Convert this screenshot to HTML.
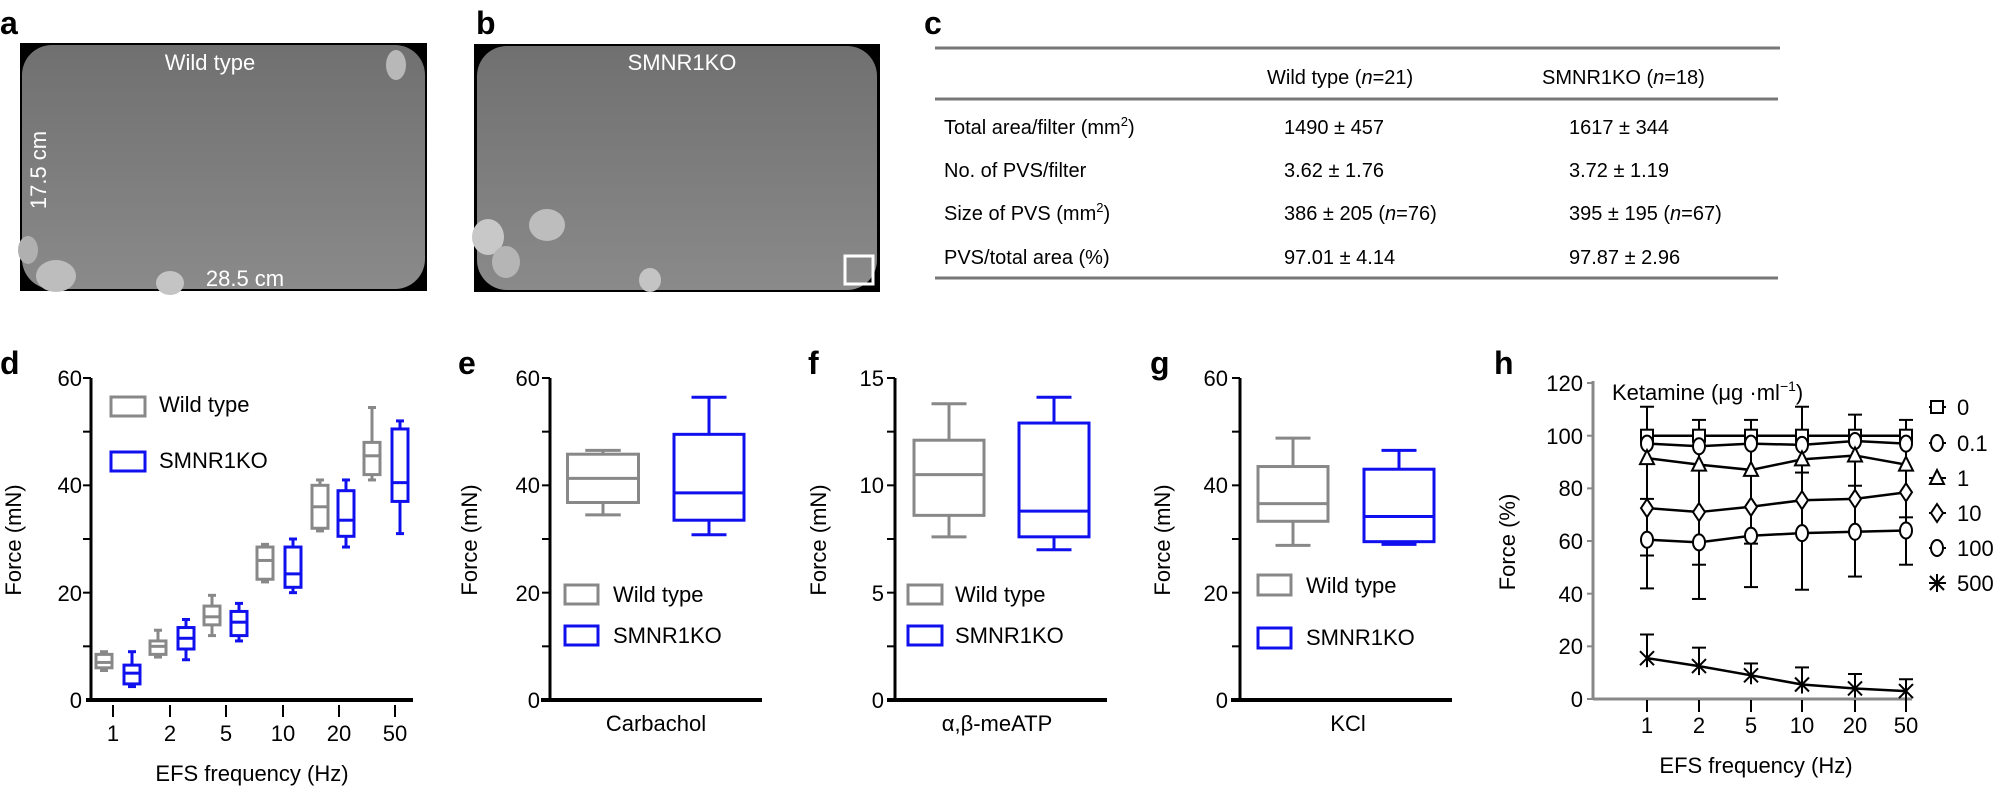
<!DOCTYPE html>
<html><head><meta charset="utf-8"><style>
html,body{margin:0;padding:0;background:#fff;}
svg{display:block;font-family:"Liberation Sans",Arial,sans-serif;}
</style></head><body>
<svg id="s" width="2002" height="787" viewBox="0 0 2002 787" xmlns="http://www.w3.org/2000/svg">
<defs>
<linearGradient id="ga" x1="0" y1="0" x2="0" y2="1"><stop offset="0" stop-color="#707070"/><stop offset="1" stop-color="#8a8a8a"/></linearGradient>
</defs>
<!-- panel letters -->
<g font-weight="bold" font-size="32" fill="#000">
<text x="0" y="34">a</text><text x="476" y="34">b</text><text x="924" y="34">c</text>
<text x="0" y="374">d</text><text x="458" y="374">e</text><text x="808" y="374">f</text><text x="1150" y="374">g</text><text x="1494" y="374">h</text>
</g>
<!-- photos -->
<rect x="20" y="43" width="407" height="248" fill="#000"/>
<rect x="22" y="45" width="403" height="244" rx="30" fill="url(#ga)"/>
<ellipse cx="396" cy="65" rx="10" ry="15" fill="#b8b8b8"/>
<ellipse cx="28" cy="250" rx="10" ry="14" fill="#b0b0b0"/>
<ellipse cx="56" cy="276" rx="20" ry="16" fill="#bdbdbd"/>
<ellipse cx="170" cy="283" rx="14" ry="12" fill="#c4c4c4"/>
<text x="210" y="70" font-size="22" fill="#fff" text-anchor="middle">Wild type</text>
<text x="245" y="286" font-size="22" fill="#fff" text-anchor="middle">28.5 cm</text>
<text transform="translate(46,170) rotate(-90)" font-size="22" fill="#fff" text-anchor="middle">17.5 cm</text>
<rect x="474" y="44" width="406" height="248" fill="#000"/>
<rect x="477" y="46" width="400" height="244" rx="30" fill="url(#ga)"/>
<ellipse cx="547" cy="225" rx="18" ry="16" fill="#bdbdbd"/>
<ellipse cx="488" cy="237" rx="16" ry="18" fill="#c8c8c8"/>
<ellipse cx="506" cy="262" rx="14" ry="16" fill="#b5b5b5"/>
<ellipse cx="650" cy="280" rx="11" ry="12" fill="#c4c4c4"/>
<rect x="845" y="256" width="28" height="28" fill="none" stroke="#fff" stroke-width="3"/>
<text x="682" y="70" font-size="22" fill="#fff" text-anchor="middle">SMNR1KO</text>
<!-- table -->
<g stroke="#777" stroke-width="3"><line x1="935" y1="48" x2="1780" y2="48"/><line x1="935" y1="99" x2="1778" y2="99"/><line x1="935" y1="278" x2="1778" y2="278"/></g>
<g font-size="20" fill="#000">
<text x="1267" y="84">Wild type (<tspan font-style="italic">n</tspan>=21)</text>
<text x="1542" y="84">SMNR1KO (<tspan font-style="italic">n</tspan>=18)</text>
<text x="944" y="134">Total area/filter (mm<tspan font-size="13" dy="-8">2</tspan><tspan dy="8">)</tspan></text>
<text x="944" y="177">No. of PVS/filter</text>
<text x="944" y="220">Size of PVS  (mm<tspan font-size="13" dy="-8">2</tspan><tspan dy="8">)</tspan></text>
<text x="944" y="264">PVS/total area (%)</text>
<text x="1284" y="134">1490 ± 457</text><text x="1569" y="134">1617 ± 344</text>
<text x="1284" y="177">3.62 ± 1.76</text><text x="1569" y="177">3.72 ± 1.19</text>
<text x="1284" y="220">386 ± 205 (<tspan font-style="italic">n</tspan>=76)</text><text x="1569" y="220">395 ± 195 (<tspan font-style="italic">n</tspan>=67)</text>
<text x="1284" y="264">97.01 ± 4.14</text><text x="1569" y="264">97.87 ± 2.96</text>
</g>
<!-- tick labels etc -->
<g font-size="22" fill="#000" text-anchor="end">
<text x="82" y="386">60</text><text x="82" y="493">40</text><text x="82" y="601">20</text><text x="82" y="708">0</text>
<text x="540" y="386">60</text><text x="540" y="493">40</text><text x="540" y="601">20</text><text x="540" y="708">0</text>
<text x="884" y="386">15</text><text x="884" y="493">10</text><text x="884" y="601">5</text><text x="884" y="708">0</text>
<text x="1228" y="386">60</text><text x="1228" y="493">40</text><text x="1228" y="601">20</text><text x="1228" y="708">0</text>
<text x="1583" y="391">120</text><text x="1583" y="444">100</text><text x="1583" y="496">80</text><text x="1583" y="549">60</text><text x="1583" y="602">40</text><text x="1583" y="654">20</text><text x="1583" y="707">0</text>
</g>
<g font-size="22" fill="#000" text-anchor="middle">
<text x="113" y="741">1</text><text x="170" y="741">2</text><text x="226" y="741">5</text><text x="283" y="741">10</text><text x="339" y="741">20</text><text x="395" y="741">50</text>
<text x="252" y="781">EFS frequency (Hz)</text>
<text x="656" y="731">Carbachol</text>
<text x="997" y="731">α,β-meATP</text>
<text x="1348" y="731">KCl</text>
<text x="1647" y="733">1</text><text x="1699" y="733">2</text><text x="1751" y="733">5</text><text x="1802" y="733">10</text><text x="1855" y="733">20</text><text x="1906" y="733">50</text>
<text x="1756" y="773">EFS frequency (Hz)</text>
<text transform="translate(21,540) rotate(-90)">Force (mN)</text>
<text transform="translate(477,540) rotate(-90)">Force (mN)</text>
<text transform="translate(826,540) rotate(-90)">Force (mN)</text>
<text transform="translate(1170,540) rotate(-90)">Force (mN)</text>
<text transform="translate(1515,542) rotate(-90)">Force (%)</text>
</g>
<g font-size="22" fill="#000">
<text x="159" y="412">Wild type</text><text x="159" y="468">SMNR1KO</text>
<text x="613" y="602">Wild type</text><text x="613" y="643">SMNR1KO</text>
<text x="955" y="602">Wild type</text><text x="955" y="643">SMNR1KO</text>
<text x="1306" y="593">Wild type</text><text x="1306" y="645">SMNR1KO</text>
<text x="1612" y="400">Ketamine (μg ·ml<tspan font-size="14" dy="-9">−1</tspan><tspan dy="9">)</tspan></text>
<text x="1957" y="415">0</text><text x="1957" y="451">0.1</text><text x="1957" y="486">1</text><text x="1957" y="521">10</text><text x="1957" y="556">100</text><text x="1957" y="591">500</text>
</g>
<g id="g"></g>
</svg>
<script>
var g=document.getElementById('g'),NS='http://www.w3.org/2000/svg';
function el(t,a){var e=document.createElementNS(NS,t);for(var k in a)e.setAttribute(k,a[k]);g.appendChild(e);return e;}
function L(x1,y1,x2,y2,c,w){el('line',{x1:x1,y1:y1,x2:x2,y2:y2,stroke:c||'#000','stroke-width':w||2});}
function R(x,y,w,h,c,sw){el('rect',{x:x,y:y,width:w,height:h,fill:'none',stroke:c,'stroke-width':sw||3});}
var GR='#888',BL='#1010ee';
function box(cx,w,Y,v,c,sw){var lo=Y(v[0]),q1=Y(v[1]),m=Y(v[2]),q3=Y(v[3]),hi=Y(v[4]);
 L(cx,hi,cx,q3,c,sw);L(cx,q1,cx,lo,c,sw);L(cx-w/4,hi,cx+w/4,hi,c,sw);L(cx-w/4,lo,cx+w/4,lo,c,sw);
 R(cx-w/2,q3,w,q1-q3,c,sw);L(cx-w/2,m,cx+w/2,m,c,sw);}
function axis(x,x0,x1,top,bot,n){L(x,top,x,bot+1.5,'#000',3);L(x0,bot,x1,bot,'#000',4);
 for(var i=0;i<n;i++){var y=top+(bot-top)*i/n;L(x-8,y,x,y,'#000',2);}}
// d
var Yd=function(v){return 700-5.367*v;};
axis(91,86,413,378,700,6);
[113,170,226,283,339,395].forEach(function(x){L(x,705,x,717,'#000',2);});
var wt=[[5.5,6,7,8.5,9],[8,8.5,10,11,13],[12,14,15.5,17.5,19.5],[22,22.5,26,28.5,29],[31.5,32,36,40,41],[41,42,45.5,48,54.5]];
var ko=[[2.5,3,5,6.5,9],[7.5,9.5,11.5,13.5,15],[11,12,14.5,16.5,18],[20,21,23.5,28.5,30],[28.5,30.5,33.5,39,41],[31,37,40.5,50.5,52]];
var wx=[104,158,212,265,320,372],kx=[132,186,239,293,346,400];
for(var i=0;i<6;i++){box(wx[i],16,Yd,wt[i],GR,3);box(kx[i],16,Yd,ko[i],BL,3);}
R(111,397,34,19,GR,3);R(111,452,34,19,BL,3);
// e
axis(550,541,762,378,700,6);
box(603,71,Yd,[34.5,36.8,41.3,45.8,46.5],GR,3);box(709,70,Yd,[30.8,33.5,38.6,49.5,56.4],BL,3);
R(565,585,33,19,GR,3);R(565,626,33,19,BL,3);
// f
var Yf=function(v){return 700-21.47*v;};
axis(895,887,1107,378,700,6);
box(949,70,Yf,[7.6,8.6,10.5,12.1,13.8],GR,3);box(1054,70,Yf,[7.0,7.6,8.8,12.9,14.1],BL,3);
R(908,585,34,19,GR,3);R(908,626,34,19,BL,3);
// g
axis(1240,1231,1452,378,700,6);
box(1293,70,Yd,[28.8,33.3,36.6,43.5,48.8],GR,3);box(1399,70,Yd,[29,29.5,34.2,43,46.5],BL,3);
R(1258,575,33,20,GR,3);R(1258,628,33,20,BL,3);
// h
var Yh=function(v){return 699-2.633*v;};
L(1593,381,1593,700,'#888',3);L(1593,699,1912,699,'#888',3);
for(var i=0;i<=6;i++){var y=Yh(i*20);L(1587,y,1593,y,'#888',2);}
var hx=[1647,1699,1751,1802,1855,1906];
hx.forEach(function(x){L(x,700,x,712,'#000',2);});
var eb=[[42,111],[38,106],[42.5,106],[41.5,111],[46.5,108],[51,106]];
var caps=[[111,76,54.5,42],[106,51,38],[106,59,42.5],[111,86,41.5],[108,81,46.5],[106,69,51]];
for(var i=0;i<6;i++){L(hx[i],Yh(eb[i][0]),hx[i],Yh(eb[i][1]),'#000',2);caps[i].forEach(function(v){L(hx[i]-7,Yh(v),hx[i]+7,Yh(v),'#000',2);});}
var s500=[[15.5,24.5],[12.5,19.5],[9,13.5],[5.5,12],[4,9.5],[3,7.5]];
for(var i=0;i<6;i++){L(hx[i],Yh(s500[i][0]),hx[i],Yh(s500[i][1]),'#000',2);L(hx[i]-7,Yh(s500[i][1]),hx[i]+7,Yh(s500[i][1]),'#000',2);}
var ser={sq:[100,100,100,100,100,100],ci:[97,96,97,96.5,98,97],tr:[91.5,89,87,91,92.5,89],di:[72.5,71,73,75.5,76,78.5],oc:[60.5,59.5,62,63,63.5,64],x:[15.5,12.5,9,5.5,4,3]};
function mk(t,x,y){var s=6;
 if(t=='sq')el('rect',{x:x-s,y:y-s,width:2*s,height:2*s,fill:'#fff',stroke:'#000','stroke-width':2});
 else if(t=='ci'||t=='oc')el('ellipse',{cx:x,cy:y,rx:6,ry:8,fill:'#fff',stroke:'#000','stroke-width':2});
 else if(t=='tr')el('polygon',{points:(x)+','+(y-8)+' '+(x+7)+','+(y+6)+' '+(x-7)+','+(y+6),fill:'#fff',stroke:'#000','stroke-width':2});
 else if(t=='di')el('polygon',{points:x+','+(y-9)+' '+(x+6)+','+y+' '+x+','+(y+9)+' '+(x-6)+','+y,fill:'#fff',stroke:'#000','stroke-width':2});
 else {L(x-7,y-7,x+7,y+7,'#000',2);L(x-7,y+7,x+7,y-7,'#000',2);L(x,y-9,x,y+9,'#000',2);}
}
for(var k in ser){var p=ser[k].map(function(v,i){return hx[i]+','+Yh(v);}).join(' ');
 el('polyline',{points:p,fill:'none',stroke:'#000','stroke-width':2.5});
 ser[k].forEach(function(v,i){mk(k,hx[i],Yh(v));});}
var lt=['sq','ci','tr','di','oc','x'],ly=[407,443,478,513,548,583];
for(var i=0;i<6;i++){L(1929,ly[i],1946,ly[i],'#000',2);mk(lt[i],1937,ly[i]);}
</script>
</body></html>
